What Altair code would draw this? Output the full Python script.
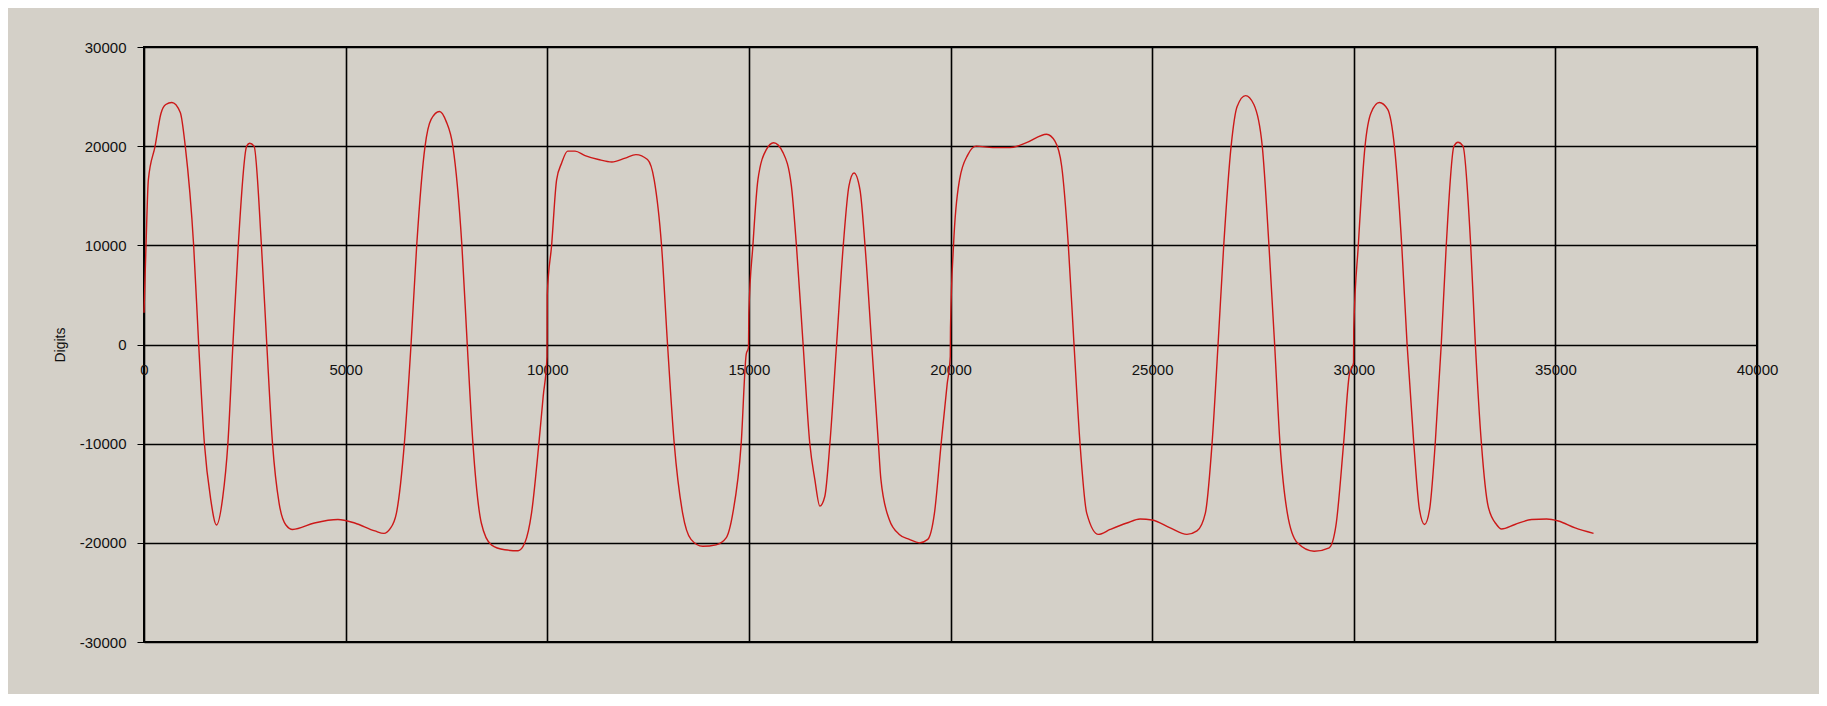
import altair as alt
import pandas as pd

# Sample index (x) and signal value in digits (y)
sample = [
    0, 50, 108, 275, 420, 540, 690, 900, 1023, 1231, 1356, 1498, 1650, 1797, 1950,
    2080, 2205, 2338, 2546, 2621, 2729, 2912, 3045, 3187, 3350, 3519, 3686,
    4226, 4809, 5225, 5724, 5950, 6100, 6260, 6456, 6622, 6763, 6970, 7120,
    7327, 7493, 7659, 7883, 8016, 8157, 8365, 8614, 8946, 9278, 9444, 9610,
    9792, 9900, 9995, 10000, 10108, 10232, 10357, 10506, 10689, 10938, 11270,
    11602, 11934, 12200, 12486, 12652, 12834, 12983, 13149, 13357, 13565,
    13855, 14187, 14436, 14602, 14809, 14934, 14990, 15000, 15100, 15224,
    15432, 15614, 15847, 16054, 16179, 16345, 16511, 16635, 16760, 16884,
    17009, 17175, 17341, 17482, 17607, 17756, 17880, 18046, 18212, 18274,
    18481, 18730, 18979, 19228, 19436, 19602, 19768, 19917, 19995, 20000,
    20075, 20224, 20432, 20639, 21054, 21469, 21884, 22382, 22590, 22756,
    22922, 23063, 23212, 23378, 23669, 23959, 24374, 24701, 25000, 25448,
    25863, 26112, 26320, 26486, 26635, 26776, 26959, 27108, 27316, 27523,
    27731, 27897, 28038, 28171, 28353, 28602, 29017, 29391, 29557, 29748,
    29892, 29995, 30000, 30113, 30280, 30427, 30635, 30842, 31008, 31190,
    31323, 31489, 31630, 31755, 31880, 32020, 32170, 32294, 32485, 32585,
    32709, 32900, 33016, 33166, 33332, 33539, 33664, 33996, 34411, 34784,
    35075, 35490, 35946,
]
digits = [
    3200, 10000, 16600, 20000, 23300, 24200, 24400, 23400, 20000, 10000, 0, -10000, -15500, -18200, -15500,
    -10000, 0, 10000, 20000, 20300, 20000, 10000, 0, -10000, -16000, -18200, -18650,
    -18000, -17650, -18000, -18800, -19050, -18600, -17000, -10000, 0, 10000, 20000, 22700,
    23500, 22500, 20000, 10000, 0, -10000, -18000, -20200, -20700, -20800, -20000, -17000,
    -10000, -5200, -1200, 5000, 10000, 16600, 18300, 19500, 19500, 19050, 18650,
    18400, 18800, 19150, 18650, 16600, 10000, 0, -10000, -17000, -19650,
    -20350, -20200, -19500, -17000, -10000, -1000, -300, 3200, 10000, 16600,
    19650, 20350, 19350, 16000, 10000, 0, -10000, -13600, -16300, -15300,
    -10000, 0, 10000, 16000, 17300, 15600, 10000, 0, -10000, -13600,
    -17650, -19150, -19650, -20000, -19650, -17000, -10000, -4000, -1200, 1700,
    10000, 16600, 19150, 20000, 19850, 19850, 20350, 21200, 20500, 18000,
    10000, 0, -10000, -17000, -19150, -18650, -18000, -17600, -17700, -18500,
    -19150, -18800, -17000, -10000, 0, 10000, 20000, 24000, 25100, 24200,
    20000, 10000, 0, -10000, -17000, -20000, -20850, -20500, -18300, -10000,
    -3000, -1850, 1500, 10000, 20000, 23350, 24400, 23700, 20000, 10000,
    0, -10000, -16650, -18150, -16650, -10000, 0, 10000, 20000, 20400,
    20000, 10000, 0, -10000, -16300, -18150, -18600, -18150, -17650, -17600,
    -17800, -18500, -19050,
]

x_ticks = [0, 5000, 10000, 15000, 20000, 25000, 30000, 35000, 40000]
y_ticks = [-30000, -20000, -10000, 0, 10000, 20000, 30000]

df = pd.DataFrame({"Sample": sample, "Digits": digits})

FONT = "Liberation Sans"
PLAIN_LABEL = "'' + datum.value"

chart = (
    alt.Chart(df)
    .mark_line(color="#cc1818", strokeWidth=1.4, interpolate="monotone")
    .encode(
        x=alt.X(
            "Sample:Q",
            scale=alt.Scale(domain=[0, 40000], nice=False, zero=False),
            axis=alt.Axis(
                values=x_ticks,
                labelExpr=PLAIN_LABEL,
                title=None,
                orient="bottom",
                offset=-297.5,
                grid=True,
                domain=False,
                ticks=True,
                tickSize=6,
                tickColor="#000000",
                labelPadding=12,
                labelFlush=False,
                labelOverlap=False,
                labelFont=FONT,
                labelFontSize=15,
                labelColor="#111111",
            ),
        ),
        y=alt.Y(
            "Digits:Q",
            scale=alt.Scale(domain=[-30000, 30000], nice=False),
            axis=alt.Axis(
                values=y_ticks,
                labelExpr=PLAIN_LABEL,
                title="Digits",
                grid=True,
                domain=False,
                tickSize=7,
                tickColor="#000000",
                labelPadding=11,
                labelFlush=False,
                labelOverlap=False,
                labelFont=FONT,
                labelFontSize=15,
                labelColor="#111111",
                titleFont=FONT,
                titleFontSize=14,
                titleFontWeight="normal",
                titleColor="#111111",
                titlePadding=12,
            ),
        ),
    )
    .properties(
        width=1613,
        height=595,
        background="#d4d0c8",
        padding={"left": 136, "top": 39, "right": 62, "bottom": 52},
        autosize=alt.AutoSizeParams(type="none"),
    )
    .configure_view(fill="#d4d0c8", stroke="#000000", strokeWidth=2)
    .configure_axis(gridColor="#000000", gridWidth=1.6, gridOpacity=1)
)

chart.save("out.html", embed_options={"renderer": "svg", "actions": False})
